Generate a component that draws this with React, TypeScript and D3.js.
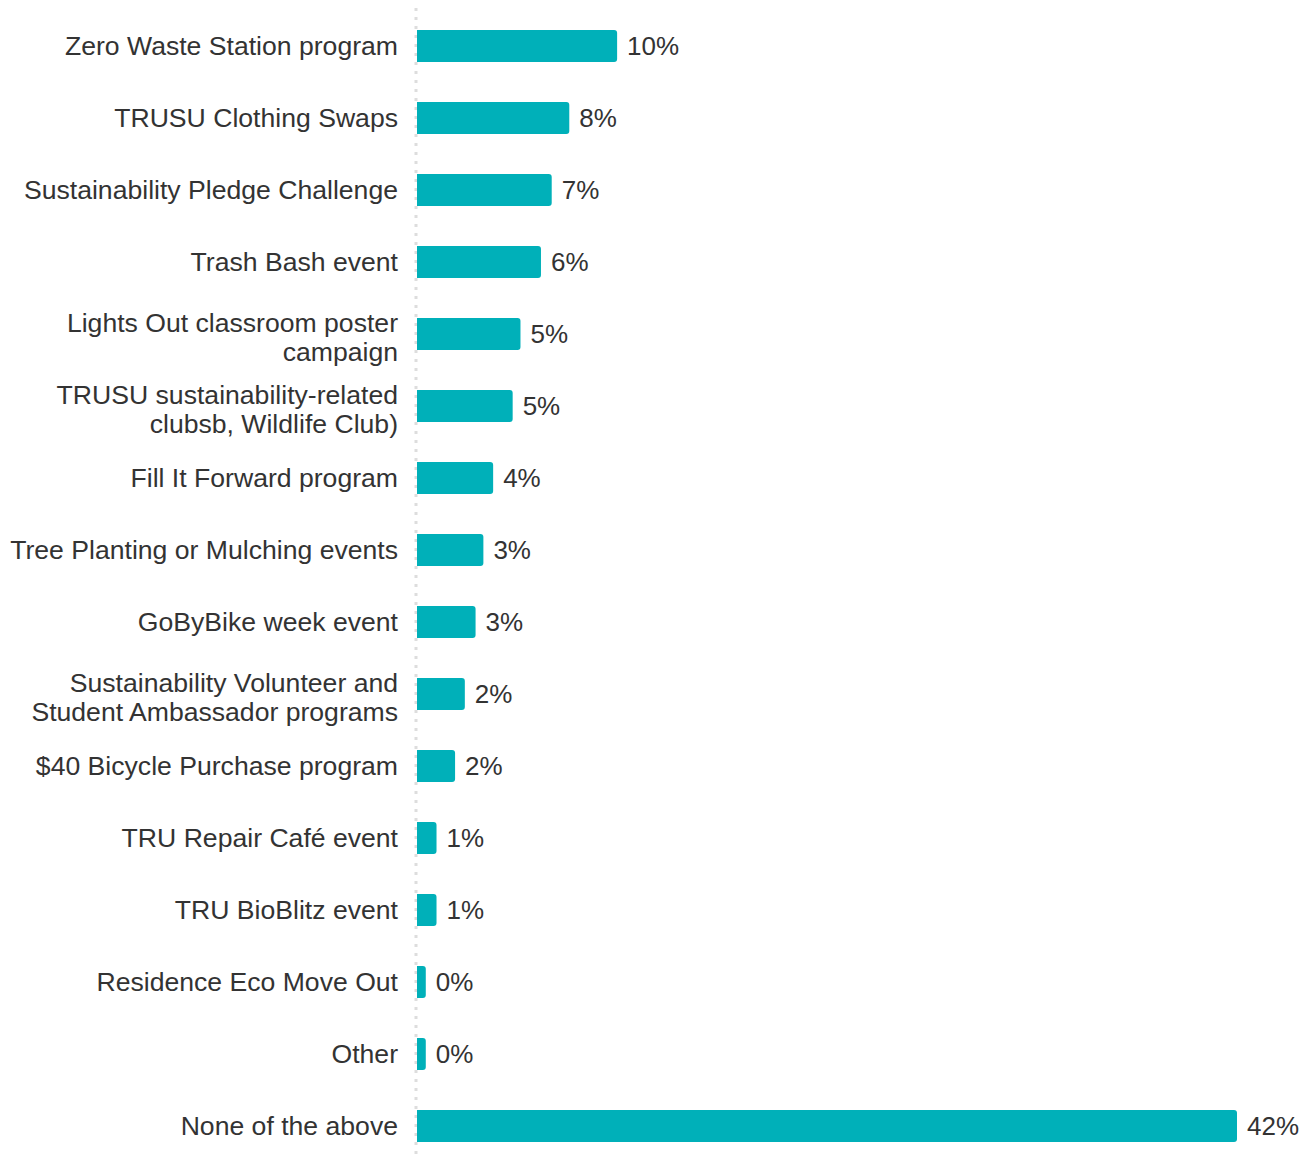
import React from "react";
import * as d3 from "d3";

const width = 1312;
const height = 1157;
const margin = { top: 10, left: 417, right: 75 };

const categories = [
  ["Zero Waste Station program"],
  ["TRUSU Clothing Swaps"],
  ["Sustainability Pledge Challenge"],
  ["Trash Bash event"],
  ["Lights Out classroom poster", "campaign"],
  ["TRUSU sustainability-related", "clubsb, Wildlife Club)"],
  ["Fill It Forward program"],
  ["Tree Planting or Mulching events"],
  ["GoByBike week event"],
  ["Sustainability Volunteer and", "Student Ambassador programs"],
  ["$40 Bicycle Purchase program"],
  ["TRU Repair Café event"],
  ["TRU BioBlitz event"],
  ["Residence Eco Move Out"],
  ["Other"],
  ["None of the above"],
];
const values = [10.25, 7.8, 6.9, 6.35, 5.3, 4.9, 3.9, 3.4, 3.0, 2.45, 1.95, 1.0, 1.0, 0.45, 0.45, 42.0];

const barColor = "#00b0b9";
const textColor = "#333333";
const font = "'Liberation Sans', Arial, sans-serif";
const labelSize = 26.6;
const valueSize = 26;
const lineHeight = 29;

function barPath(x0: number, x1: number, y: number, h: number, r: number) {
  const rr = Math.min(r, (x1 - x0) / 2, h / 2);
  return `M${x0},${y}H${x1 - rr}Q${x1},${y} ${x1},${y + rr}V${y + h - rr}Q${x1},${y + h} ${x1 - rr},${y + h}H${x0}Z`;
}

export default function App() {
  const keys = categories.map((_, i) => String(i));
  const y = d3.scaleBand<string>()
    .domain(keys)
    .range([margin.top, margin.top + 72 * keys.length])
    .paddingInner(0.555)
    .paddingOuter(0.2775);
  const x = d3.scaleLinear().domain([0, 42]).range([margin.left, width - margin.right]);
  const bw = y.bandwidth();

  return (
    <svg width={width} height={height} style={{ position: "absolute", left: 0, top: 0 }}
      fontFamily={font}>
      <line x1={margin.left - 1} x2={margin.left - 1} y1={8} y2={1155}
        stroke="#dddddd" strokeWidth={3} strokeDasharray="3,6" />
      {categories.map((lines, i) => {
        const yTop = y(String(i))!;
        const cy = yTop + bw / 2;
        const v = values[i];
        const firstY = cy + 0.35 * labelSize - (lines.length - 1) * (lineHeight / 2 - 3);
        return (
          <g key={i}>
            <path d={barPath(x(0), x(v), yTop, bw, 3)} fill={barColor} />
            <text x={x(v) + 10} y={cy} dy="0.35em" fontSize={valueSize} fill={textColor}>
              {Math.round(v) + "%"}
            </text>
            <text x={398} y={firstY} fontSize={labelSize} fill={textColor} textAnchor="end">
              {lines.map((l, j) => (
                <tspan key={j} x={398} dy={j === 0 ? 0 : lineHeight}>
                  {l}
                </tspan>
              ))}
            </text>
          </g>
        );
      })}
    </svg>
  );
}
